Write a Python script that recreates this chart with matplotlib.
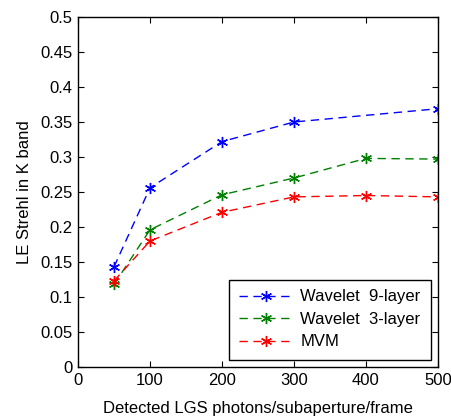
import matplotlib
matplotlib.use("Agg")
import matplotlib.pyplot as plt

plt.rcParams['font.family'] = ['Liberation Sans', 'DejaVu Sans']

x_blue = [50, 100, 200, 300, 500]
y_blue = [0.143, 0.256, 0.322, 0.350, 0.369]
x_green = [50, 100, 200, 300, 400, 500]
y_green = [0.118, 0.196, 0.246, 0.270, 0.298, 0.297]
x_red = [50, 100, 200, 300, 400, 500]
y_red = [0.123, 0.180, 0.221, 0.243, 0.245, 0.243]
labels = ['Wavelet  9-layer', 'Wavelet  3-layer', 'MVM']
xticks = [0, 100, 200, 300, 400, 500]
yticks = [0, 0.05, 0.1, 0.15, 0.2, 0.25, 0.3, 0.35, 0.4, 0.45, 0.5]

fig = plt.figure(figsize=(4.51, 4.16), dpi=100)
ax = fig.add_axes([78/451, 1 - 367/416, 360/451, 350/416])

ast = (6, 2, 0)
for xs, ys, c, lab in [(x_blue, y_blue, '#0000ff', labels[0]),
                       (x_green, y_green, '#008000', labels[1]),
                       (x_red, y_red, '#ff0000', labels[2])]:
    ax.plot(xs, ys, color=c, linestyle=(0, (6, 4)), linewidth=1.0,
            marker=ast, markersize=8, markeredgewidth=1.0, label=lab)

ax.set_xlim(0, 500)
ax.set_ylim(0, 0.5)
ax.set_xticks(xticks)
ax.set_yticks(yticks)
ax.set_yticklabels(['0', '0.05', '0.1', '0.15', '0.2', '0.25', '0.3', '0.35', '0.4', '0.45', '0.5'])
ax.tick_params(direction='in', top=True, right=True, labelsize=12, length=4, pad=4)
for s in ax.spines.values():
    s.set_linewidth(1.0)
ax.set_xlabel('Detected LGS photons/subaperture/frame', fontsize=12, labelpad=10)
ax.set_ylabel('LE Strehl in K band', fontsize=12, labelpad=6)

leg = ax.legend(loc='lower right', fontsize=12, frameon=True, fancybox=False,
                edgecolor='black', framealpha=1, borderaxespad=0.45,
                handlelength=3.3, labelspacing=0.45, borderpad=0.6,
                handletextpad=0.4)
leg.get_frame().set_linewidth(1.0)

fig.savefig('out.png', dpi=100)
